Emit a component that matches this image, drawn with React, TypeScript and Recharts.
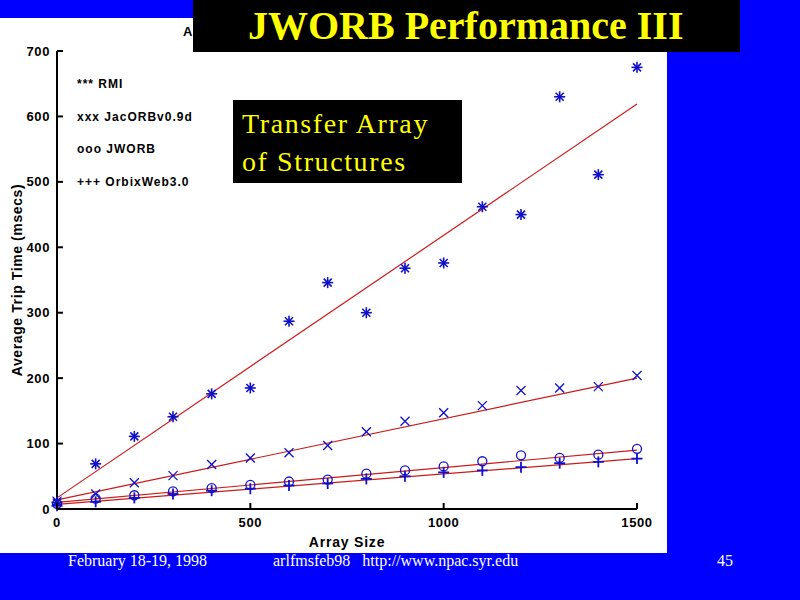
import React from 'react';
import { ComposedChart, Line, Scatter, XAxis, YAxis } from 'recharts';

// array sizes measured
const arraySizes = [0, 100, 200, 300, 400, 500, 600, 700, 800, 900, 1000, 1100, 1200, 1300, 1400, 1500];

// average trip time (msecs)
const rmiTimes = [10, 69, 111, 141, 176, 185, 287, 346, 300, 368, 376, 462, 450, 630, 511, 675];
const jacorbTimes = [12, 23, 40, 51, 68, 78, 86, 97, 118, 134, 147, 158, 181, 185, 187, 204];
const jworbTimes = [8, 16, 21, 27, 32, 37, 42, 45, 54, 59, 65, 73, 82, 78, 83, 92];
const orbixTimes = [5, 11, 17, 23, 28, 31, 36, 39, 46, 50, 56, 59, 64, 70, 72, 77];

// fitted lines, value at each end
const fitEnds = [0, 1500];
const rmiFit = [17, 619];
const jacorbFit = [14, 200];
const jworbFit = [10, 90];
const orbixFit = [7, 77];

const xTicks = [0, 500, 1000, 1500];
const yTicks = [0, 100, 200, 300, 400, 500, 600, 700];

const legendLabels = ['*** RMI', 'xxx JacORBv0.9d', 'ooo JWORB', '+++ OrbixWeb3.0'];

const BLUE = '#1010c8';
const RED = '#cc1a1a';
const AXIS_FONT = '"Liberation Sans", Arial, sans-serif';
const SERIF = '"Liberation Serif", "Times New Roman", serif';

const toPoints = (ys: number[]) => arraySizes.map((x, i) => ({ x, y: ys[i] }));
const toFit = (ys: number[]) => fitEnds.map((x, i) => ({ x, y: ys[i] }));

function Asterisk({ cx, cy }: any) {
  const r = 5.5;
  const d = 4;
  return (
    <g stroke={BLUE} strokeWidth={1.6}>
      <line x1={cx - r} y1={cy} x2={cx + r} y2={cy} />
      <line x1={cx} y1={cy - r} x2={cx} y2={cy + r} />
      <line x1={cx - d} y1={cy - d} x2={cx + d} y2={cy + d} />
      <line x1={cx - d} y1={cy + d} x2={cx + d} y2={cy - d} />
      <circle cx={cx} cy={cy} r={1.8} fill={BLUE} stroke="none" />
    </g>
  );
}

function Cross({ cx, cy }: any) {
  const r = 4.5;
  return (
    <g stroke={BLUE} strokeWidth={1.3}>
      <line x1={cx - r} y1={cy - r} x2={cx + r} y2={cy + r} />
      <line x1={cx - r} y1={cy + r} x2={cx + r} y2={cy - r} />
    </g>
  );
}

function Circle({ cx, cy }: any) {
  return <circle cx={cx} cy={cy} r={4.5} fill="none" stroke={BLUE} strokeWidth={1.3} />;
}

function Plus({ cx, cy }: any) {
  const r = 5.5;
  return (
    <g stroke={BLUE} strokeWidth={1.8}>
      <line x1={cx - r} y1={cy} x2={cx + r} y2={cy} />
      <line x1={cx} y1={cy - r} x2={cx} y2={cy + r} />
    </g>
  );
}

const LEFT_MARGIN = 7;

function LeftTick({ x, y, payload }: any) {
  const ax = x + LEFT_MARGIN;
  return (
    <g>
      <line x1={ax} y1={y} x2={ax + 6} y2={y} stroke="#000" strokeWidth={2} />
      <text x={x} y={y} dy={4.5} textAnchor="end" fontFamily={AXIS_FONT} fontSize={13} fontWeight="bold" letterSpacing={0.6} fill="#000">
        {payload.value}
      </text>
    </g>
  );
}

function RightTick({ x, y }: any) {
  return <line x1={x - 6} y1={y} x2={x} y2={y} stroke="#000" strokeWidth={2} />;
}

function TopTick({ x, y }: any) {
  return <line x1={x} y1={y} x2={x} y2={y + 6} stroke="#000" strokeWidth={2} />;
}

function BottomTick({ x, y, payload }: any) {
  return (
    <g>
      <line x1={x} y1={y - 6} x2={x} y2={y} stroke="#000" strokeWidth={2} />
      <text x={x} y={y + 18} textAnchor="middle" fontFamily={AXIS_FONT} fontSize={13} fontWeight="bold" letterSpacing={0.6} fill="#000">
        {payload.value}
      </text>
    </g>
  );
}

export default function App() {
  const axisLine = { stroke: '#000', strokeWidth: 2 };
  return (
    <div style={{ position: 'fixed', left: 0, top: 0, width: 800, height: 600, background: '#0000ff', overflow: 'hidden' }}>
      <div style={{ position: 'absolute', left: 0, top: 18, width: 667, height: 535, background: '#fff' }} />
      {/* first letter of the chart's own title, left of the slide title box */}
      <div style={{ position: 'absolute', left: 183, top: 24, fontFamily: AXIS_FONT, fontSize: 13, fontWeight: 'bold', whiteSpace: 'pre' }}>A</div>

      <div style={{ position: 'absolute', left: 0, top: 0 }}>
        <ComposedChart width={667} height={553} margin={{ top: 51, right: 30, bottom: 0, left: 0 }}>
          <XAxis
            type="number"
            dataKey="x"
            domain={[0, 1500]}
            ticks={xTicks}
            height={44}
            tickSize={0}
            tickMargin={0}
            tickLine={false}
            axisLine={axisLine}
            tick={<BottomTick />}
            label={{ value: 'Array Size', position: 'insideBottom', offset: 6, fill: '#000', fontFamily: AXIS_FONT, fontSize: 14, fontWeight: 'bold', letterSpacing: 0.8 }}
          />
          <XAxis
            xAxisId="top"
            orientation="top"
            type="number"
            dataKey="x"
            domain={[0, 1500]}
            ticks={xTicks}
            height={0}
            tickSize={0}
            tickMargin={0}
            tickLine={false}
            axisLine={axisLine}
            tick={<TopTick />}
          />
          <YAxis
            type="number"
            dataKey="y"
            domain={[0, 700]}
            ticks={yTicks}
            width={57}
            tickSize={0}
            tickMargin={LEFT_MARGIN}
            tickLine={false}
            axisLine={axisLine}
            tick={<LeftTick />}
            label={{ value: 'Average Trip Time (msecs)', angle: -90, position: 'insideLeft', offset: 17, style: { textAnchor: 'middle' }, fill: '#000', fontFamily: AXIS_FONT, fontSize: 14, fontWeight: 'bold', letterSpacing: 0.6 }}
          />
          <YAxis
            yAxisId="right"
            orientation="right"
            type="number"
            domain={[0, 700]}
            ticks={yTicks}
            width={0}
            tickSize={0}
            tickMargin={0}
            tickLine={false}
            axisLine={axisLine}
            tick={<RightTick />}
          />

          <Line data={toFit(rmiFit)} dataKey="y" stroke={RED} strokeWidth={1.2} dot={false} isAnimationActive={false} />
          <Line data={toFit(jacorbFit)} dataKey="y" stroke={RED} strokeWidth={1.2} dot={false} isAnimationActive={false} />
          <Line data={toFit(jworbFit)} dataKey="y" stroke={RED} strokeWidth={1.2} dot={false} isAnimationActive={false} />
          <Line data={toFit(orbixFit)} dataKey="y" stroke={RED} strokeWidth={1.2} dot={false} isAnimationActive={false} />

          <Scatter data={toPoints(rmiTimes)} dataKey="y" shape={(p: any) => <Asterisk {...p} />} isAnimationActive={false} />
          <Scatter data={toPoints(jacorbTimes)} dataKey="y" shape={(p: any) => <Cross {...p} />} isAnimationActive={false} />
          <Scatter data={toPoints(jworbTimes)} dataKey="y" shape={(p: any) => <Circle {...p} />} isAnimationActive={false} />
          <Scatter data={toPoints(orbixTimes)} dataKey="y" shape={(p: any) => <Plus {...p} />} isAnimationActive={false} />
        </ComposedChart>
      </div>

      {legendLabels.map((label, i) => (
        <div
          key={label}
          style={{
            position: 'absolute',
            left: 77,
            top: 77 + i * 32.6,
            fontFamily: AXIS_FONT,
            fontSize: 12,
            fontWeight: 'bold',
            letterSpacing: 1,
            color: '#000',
            whiteSpace: 'pre',
          }}
        >
          {label}
        </div>
      ))}

      <div style={{ position: 'absolute', left: 233, top: 100, width: 229, height: 83, background: '#000' }}>
        <div style={{ position: 'absolute', left: 9, top: 5, fontFamily: SERIF, fontSize: 28, lineHeight: '38px', letterSpacing: 1.6, color: '#ffff00', whiteSpace: 'pre' }}>
          {'Transfer Array\nof Structures'}
        </div>
      </div>

      <div style={{ position: 'absolute', left: 193, top: 0, width: 547, height: 52, background: '#000' }}>
        <div style={{ position: 'absolute', left: 55, top: 3, fontFamily: SERIF, fontSize: 40, fontWeight: 'bold', lineHeight: '46px', color: '#ffff00', whiteSpace: 'pre' }}>
          JWORB Performance III
        </div>
      </div>

      <div style={{ position: 'absolute', left: 68, top: 552, fontFamily: SERIF, fontSize: 16, color: '#fff', whiteSpace: 'pre' }}>
        February 18-19, 1998
      </div>
      <div style={{ position: 'absolute', left: 273, top: 552, fontFamily: SERIF, fontSize: 16, color: '#fff', whiteSpace: 'pre' }}>
        {'arlfmsfeb98   http://www.npac.syr.edu'}
      </div>
      <div style={{ position: 'absolute', left: 717, top: 552, fontFamily: SERIF, fontSize: 16, color: '#fff', whiteSpace: 'pre' }}>
        45
      </div>
    </div>
  );
}
